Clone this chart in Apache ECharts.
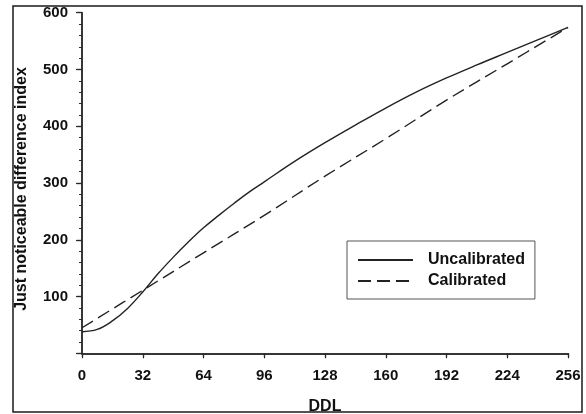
<!DOCTYPE html>
<html><head><meta charset="utf-8">
<script src="https://cdn.jsdelivr.net/npm/echarts@6/dist/echarts.min.js"></script>
<style>html,body{margin:0;padding:0;background:#fff}#c{width:586px;height:414px}</style>
</head><body><div id="c"></div>
<script>
const ddl = [0, 8, 16, 24, 32, 40, 48, 56, 64, 72, 80, 88, 96, 112, 128, 144, 160, 176, 192, 208, 224, 240, 256];
const uncalibrated = [38, 42, 57, 79, 108, 140, 169, 196, 221, 243, 264, 284, 302, 338, 371, 402, 432, 460, 485, 508, 530, 552, 574];
const ddlCal = [0, 32, 64, 96, 128, 160, 192, 224, 256];
const calibrated = [45, 111, 177, 243, 312, 378, 446, 510, 574];
const xTicks = [0, 32, 64, 96, 128, 160, 192, 224, 256];
const yTicks = [100, 200, 300, 400, 500, 600];

const FONT = 'Liberation Sans, Arial, sans-serif';
const axisColor = '#2a2a2a';
const chart = echarts.init(document.getElementById('c'), null, {renderer: 'canvas'});
chart.setOption({
  animation: false,
  backgroundColor: '#fff',
  graphic: [{
    type: 'rect', shape: {x: 13, y: 6, width: 569, height: 406},
    style: {fill: 'none', stroke: '#1a1a1a', lineWidth: 1.5}, z: 100, silent: true
  }],
  grid: {left: 82, right: 18, top: 12.7, bottom: 60.7, containLabel: false, outerBoundsMode: 'none'},
  legend: {
    orient: 'vertical', left: 347, top: 241,
    padding: [11, 10, 10, 10], itemGap: 5,
    borderColor: '#555', borderWidth: 1,
    itemWidth: 55, itemHeight: 14,
    itemStyle: {color: 'rgba(0,0,0,0)', borderColor: 'rgba(0,0,0,0)', borderWidth: 0},
    textStyle: {fontFamily: FONT, fontWeight: 'bold', fontSize: 16, color: '#111', lineHeight: 16, padding: [0, 0, 0, 10]},
    data: ['Uncalibrated', 'Calibrated']
  },
  xAxis: [{
    type: 'value', min: 0, max: 256, interval: 32, position: 'bottom',
    name: 'DDL', nameLocation: 'middle', nameGap: 45,
    nameTextStyle: {fontFamily: FONT, fontWeight: 'bold', fontSize: 16, color: '#111'},
    axisLine: {show: true, lineStyle: {color: axisColor, width: 1.5}},
    axisTick: {show: true, inside: false, length: 5, lineStyle: {color: axisColor, width: 1.2}},
    axisLabel: {margin: 15, fontFamily: FONT, fontWeight: 'bold', fontSize: 15, color: '#111',
      formatter: v => xTicks.includes(v) ? String(v) : ''},
    splitLine: {show: false}
  }, {
    type: 'value', min: 0, max: 256, interval: 32, position: 'top',
    axisLine: {show: true, lineStyle: {color: axisColor, width: 1.5}},
    axisTick: {show: true, inside: true, length: 4, lineStyle: {color: axisColor, width: 1.2}},
    axisLabel: {show: false}, splitLine: {show: false}
  }],
  yAxis: [{
    type: 'value', min: 0, max: 600, interval: 100, position: 'left',
    name: 'Just noticeable difference index', nameLocation: 'middle', nameGap: 52,
    nameTextStyle: {fontFamily: FONT, fontWeight: 'bold', fontSize: 16, color: '#111', padding: [0, 0, 0, -12]},
    axisLine: {show: true, lineStyle: {color: axisColor, width: 1.5}},
    axisTick: {show: true, inside: false, length: 6, lineStyle: {color: axisColor, width: 1.2}},
    minorTick: {show: true, splitNumber: 5, length: 3, lineStyle: {color: axisColor, width: 1}},
    axisLabel: {margin: 14, fontFamily: FONT, fontWeight: 'bold', fontSize: 15, color: '#111',
      formatter: v => yTicks.includes(v) ? String(v) : ''},
    splitLine: {show: false}, minorSplitLine: {show: false}
  }, {
    type: 'value', min: 0, max: 600, interval: 100, position: 'right',
    axisLine: {show: true, lineStyle: {color: axisColor, width: 1.5}},
    axisTick: {show: true, inside: true, length: 5, lineStyle: {color: axisColor, width: 1.2}},
    minorTick: {show: true, splitNumber: 5, length: 3, lineStyle: {color: axisColor, width: 1}},
    axisLabel: {show: false}, splitLine: {show: false}, minorSplitLine: {show: false}
  }],
  series: [{
    name: 'Uncalibrated', type: 'line', smooth: 0.4, symbol: 'none',
    data: ddl.map((x, i) => [x, uncalibrated[i]]),
    lineStyle: {color: '#222', width: 1.4, type: 'solid'},
    itemStyle: {color: '#222'}
  }, {
    name: 'Calibrated', type: 'line', smooth: 0.4, symbol: 'none',
    data: ddlCal.map((x, i) => [x, calibrated[i]]),
    lineStyle: {color: '#222', width: 1.4, type: [13, 6]},
    itemStyle: {color: '#222'}
  }]
});
</script></body></html>
